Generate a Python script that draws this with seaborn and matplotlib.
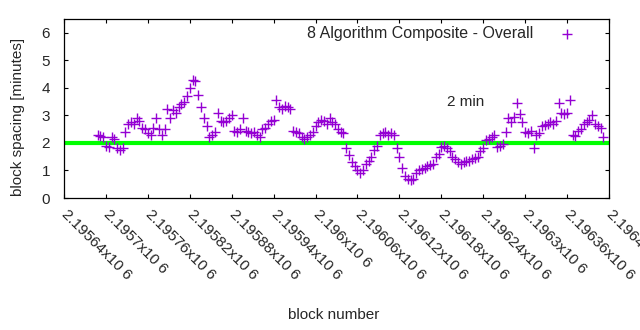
import numpy as np
import pandas as pd
import matplotlib
matplotlib.use("Agg")
import matplotlib.pyplot as plt
import seaborn as sns

# ---- data ----
start_block = 2195688
block_step = 4
spacing_minutes = [
    2.3, 2.25, 2.2, 1.9, 1.85, 2.2, 2.15, 1.8, 1.75, 1.8,
    2.4, 2.7, 2.75, 2.7, 2.9, 2.8, 2.55, 2.5, 2.35, 2.3,
    2.55, 2.9, 2.5, 2.3, 2.5, 3.25, 2.9, 3.2, 3.1, 3.3,
    3.4, 3.5, 3.7, 4.0, 4.3, 4.25, 3.75, 3.3, 2.9, 2.6,
    2.2, 2.3, 2.4, 3.1, 2.8, 2.75, 2.8, 2.9, 3.0, 2.45,
    2.4, 2.5, 2.9, 2.45, 2.4, 2.35, 2.4, 2.3, 2.2, 2.5,
    2.55, 2.7, 2.8, 2.85, 3.55, 3.3, 3.25, 3.35, 3.3, 3.25,
    2.45, 2.4, 2.35, 2.2, 2.15, 2.2, 2.3, 2.4, 2.6, 2.75,
    2.85, 2.8, 2.7, 2.9, 2.75, 2.7, 2.5, 2.4, 2.35, 1.8,
    1.55, 1.3, 1.15, 1.0, 0.9, 1.0, 1.25, 1.35, 1.5, 1.75,
    1.9, 2.3, 2.35, 2.4, 2.3, 2.35, 2.3, 1.8, 1.5, 1.1,
    0.8, 0.7, 0.65, 0.7, 0.9, 1.0, 1.05, 1.1, 1.15, 1.2,
    1.25, 1.5, 1.6, 1.85, 1.9, 1.8, 1.7, 1.5, 1.4, 1.3,
    1.25, 1.3, 1.35, 1.35, 1.4, 1.45, 1.5, 1.7, 1.8, 2.1,
    2.15, 2.2, 2.3, 1.85, 1.9, 1.95, 2.4, 2.9, 2.75, 2.95,
    3.45, 3.05, 2.75, 2.4, 2.35, 2.45, 1.8, 2.3, 2.35, 2.6,
    2.65, 2.7, 2.75, 2.7, 2.8, 3.45, 3.1, 3.05, 3.1, 3.55,
    2.3, 2.25, 2.45, 2.5, 2.7, 2.75, 2.85, 3.0, 2.7, 2.6,
    2.55, 2.2,
]
blocks = start_block + block_step * np.arange(len(spacing_minutes))

target_minutes = 2
target_label = "2 min"
series_label = "8 Algorithm Composite - Overall"

x_ticks = [2195640, 2195700, 2195760, 2195820, 2195880, 2195940, 2196000,
           2196060, 2196120, 2196180, 2196240, 2196300, 2196360, 2196420]
x_tick_labels = ["2.19564x10 6", "2.1957x10 6", "2.19576x10 6", "2.19582x10 6",
                 "2.19588x10 6", "2.19594x10 6", "2.196x10 6", "2.19606x10 6",
                 "2.19612x10 6", "2.19618x10 6", "2.19624x10 6", "2.1963x10 6",
                 "2.19636x10 6", "2.19642x10 6"]
y_ticks = [0, 1, 2, 3, 4, 5, 6]

df = pd.DataFrame({"block": blocks, "spacing": spacing_minutes})

# ---- style ----
sns.set_style("white")
plt.rcParams["font.family"] = ["Liberation Sans", "DejaVu Sans"]
FS = 11

fig = plt.figure(figsize=(6.4, 3.3), dpi=100)
ax = fig.add_axes([64 / 640, 1 - 198 / 330, (609 - 64) / 640, (198 - 19) / 330])

purple = "#9400d3"
green = "#00ff00"

sns.scatterplot(data=df, x="block", y="spacing", marker="+", color=purple,
                s=45, linewidth=1.0, ax=ax, label=series_label, zorder=3)
ax.axhline(target_minutes, color=green, linewidth=3.0, zorder=2)

ax.text(2196188, 3.47, target_label, fontsize=FS, ha="left", va="center")

ax.set_xlim(x_ticks[0], x_ticks[-1])
ax.set_ylim(0, 6.5)
ax.set_yticks(y_ticks)
ax.set_yticklabels([str(v) for v in y_ticks], fontsize=FS)
ax.set_xticks(x_ticks)
ax.set_xticklabels(x_tick_labels, fontsize=FS, rotation=-45,
                   ha="left", va="center", rotation_mode="anchor")
ax.tick_params(axis="both", direction="in", length=3, width=0.8,
               top=True, right=True, bottom=True, left=True, color="black")
ax.tick_params(axis="x", pad=10)
ax.tick_params(axis="y", pad=10)
for sp in ax.spines.values():
    sp.set_visible(True)
    sp.set_color("black")
    sp.set_linewidth(0.9)

ax.set_xlabel("")
ax.set_ylabel("")
fig.text(18 / 640, 1 - 117 / 330, "block spacing [minutes]", rotation=90,
         ha="center", va="center", fontsize=FS)
fig.text(334 / 640, 1 - 315 / 330, "block number", ha="center", va="center",
         fontsize=FS)

leg = ax.legend(loc="upper right", bbox_to_anchor=(583 / 640, 1 - 26 / 330),
                bbox_transform=fig.transFigure, frameon=False, markerfirst=False,
                fontsize=FS + 0.5, handlelength=2.0, handletextpad=1.1,
                borderpad=0, borderaxespad=0)

fig.savefig("out.png", dpi=100)
